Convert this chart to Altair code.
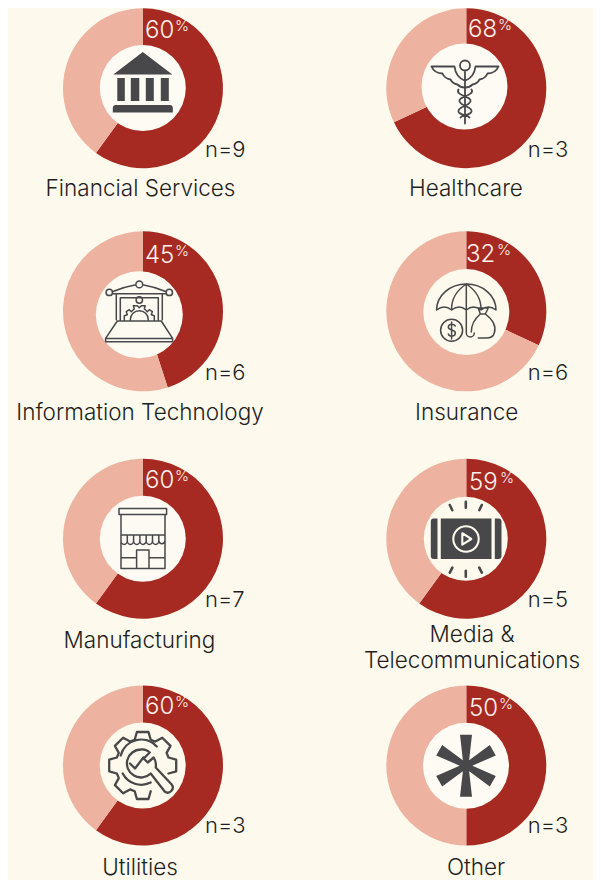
import math
import altair as alt
import pandas as pd

# ---- chart values ----
categories = ["Financial Services", "Healthcare", "Information Technology", "Insurance",
              "Manufacturing", "Media &\nTelecommunications", "Utilities", "Other"]
shares = [60, 68, 45, 32, 60, 60, 60, 50]
pct_labels = ["60", "68", "45", "32", "60", "59", "60", "50"]
n_labels = ["n=9", "n=3", "n=6", "n=6", "n=7", "n=5", "n=3", "n=3"]

# ---- layout, in page pixels ----
COL_X = [0, 323]
ROW_Y = [0, 227, 454, 681]
ROW_H = [227, 227, 227, 187]
ROW_SHIFT = [3.5, 0, 0, 0]
ring_cx = [143, 466.3] * 4
ring_cy = [84.7, 84.7, 311.3, 311.3, 538.7, 538.7, 765.5, 765.5]
disc_cx = [142.8, 464.5, 139.3, 466.3, 142.8, 465.8, 142.7, 466]
disc_cy = [84.5, 83, 314.7, 312, 538.7, 538.7, 765.5, 765.7]
disc_r = [43, 43, 43.5, 43, 43, 42, 43, 43]
num_x = [145, 468, 145, 466, 145, 469, 145, 469]
num_y = [34, 33.5, 263.3, 261.7, 488.3, 490, 714, 715.7]
pct_x = [175, 498, 175, 497, 175, 500, 175, 499]
n_x = [205, 527.7] * 4
n_y = [153, 153, 380, 380, 606.7, 606.7, 832.7, 832.7]
label_x = [140.5, 466, 140, 466.7, 139.5, 472, 140, 476]
label_y = [192, 192, 420, 420, 648, 642, 875, 875]

# ---- colours ----
BG = "#FDF9EC"
DARK = "#A72A22"
LIGHT = ["#EDB3A0"] * 5 + ["#DFB1A3"] + ["#EDB3A0"] * 2
DISC = ["#FEFBF5", "#FEFBF5", "#FDFAF2", BG, "#FDFAF3", BG, BG, "#FEFBF5"]
ICON = "#48484A"
TEXT = "#1F1F1F"
PCT = "#FDF1EA"
FONT = "Inter"


def gear():
    pts = []
    for k in range(8):
        a = -math.pi / 2 + k * math.pi / 4
        if k == 3:
            continue
        for r, d in ((27, -0.30), (34, -0.17), (34, 0.17), (27, 0.30)):
            pts.append((r * math.cos(a + d), r * math.sin(a + d)))
    ordered = pts[12:] + pts[:12]
    return "M" + " L".join(f"{x:.1f},{y:.1f}" for x, y in ordered)


def asterisk():
    bar = [(-6, -31), (6, -31), (2.5, 0), (6, 31), (-6, 31), (-2.5, 0)]
    out = []
    for deg in (0, 60, 120):
        a = math.radians(deg)
        p = [(x * math.cos(a) - y * math.sin(a), x * math.sin(a) + y * math.cos(a)) for x, y in bar]
        out.append("M" + " L".join(f"{x:.1f},{y:.1f}" for x, y in p) + " Z")
    return " ".join(out)


def circle(cx, cy, r):
    return f"M{cx - r},{cy} A{r},{r} 0 1 1 {cx + r},{cy} A{r},{r} 0 1 1 {cx - r},{cy} Z"


def rect(x0, y0, x1, y1):
    return f"M{x0},{y0} H{x1} V{y1} H{x0} Z"


bank = ("M0,-36 L29.5,-13.5 H-29.5 Z " + rect(-25.5, -10, -18, 13) + " " + rect(-12, -10, -3.5, 13) + " "
        + rect(3, -10, 11, 13) + " " + rect(18, -10, 26, 13)
        + " M-30,24.5 V20 Q-30,17 -27,17 H27 Q30,17 30,20 V24.5 Z")

caduceus = (circle(0.5, -21, 5) + " M0.5,-16 V37"
            " M-33,-20 H-10 C-9,-12 -5,-8 0,-6 M34,-20 H11 C10,-12 6,-8 1,-6"
            " M-33,-20 Q-30,-13 -22,-13 Q-20,-8 -14,-7 Q-12,-3 -7,-2 Q-4,1 0,1"
            " M34,-20 Q31,-13 23,-13 Q21,-8 15,-7 Q13,-3 8,-2 Q5,1 1,1"
            " M-6,3 C-10,9 8,10 6,15 C4,20 -7,20 -6,25 C-5,29 3,28 5,31"
            " M7,3 C11,9 -7,10 -5,15 C-3,20 8,20 7,25 C6,29 -2,28 -4,31")

laptop = (circle(0, -30.3, 3.4) + " " + circle(-30, -22.3, 3.2) + " " + circle(30, -22.3, 3.2)
          + " M-27,-23 Q-15,-28 -3.4,-30 M3.4,-30 Q15,-28 27,-23 M-26.8,-21 H26.8"
          " M-23,-20 V5 M23,-20 V5 M-19,-17 H19 M-19,-17 V5 M19,-17 V5 "
          + circle(0, -14.7, 3.2)
          + " M-15,5 V1 L-12,0 L-13,-3 L-10,-5 L-8,-3 L-5,-6 L-6,-9 L-2,-9 L0,-7 L2,-9 L6,-9 L5,-6"
          " L8,-3 L10,-5 L13,-3 L12,0 L15,1 V5 M-9,5 A9,9 0 0 1 9,5"
          " M-22,6.3 H22 L33.3,23.7 V27 H-33.7 V23.7 Z M-33.7,23.7 H33.3")

insurance = ("M-29.7,-2 A29.7,26 0 0 1 29.7,-2 Q22,-8 14.7,-2 Q7,-8 0,-2 Q-7,-8 -14.7,-2 Q-22,-8 -29.7,-2 Z"
             " M0,-28 C-12,-20 -15,-10 -14.7,-2 M0,-28 C12,-20 15,-10 14.7,-2"
             " M0,-28 V21 A4,4 0 0 0 8,21 " + circle(-14.7, 18.3, 11)
             + " M-11,14 C-13,11 -18,12 -18,15 C-18,19 -11,17 -11,21 C-11,25 -17,25 -18,22 M-14.7,10 V27"
             " M12,-4 H22 L19,2 H14 Z M14,2 C7,8 5,14 5,20 M19,2 C27,8 30,15 28,21 C27,25 24,26 20,26 H12")

store = (rect(-23.8, -30.3, 23.8, -24.3) + " M-21.8,-24.3 V29.7 H22.2 V-24.3 M-21.8,-3.7 H22.2"
         " M-21.8,-3.7 V2 A3.14,3.7 0 0 0 -15.5,2 A3.14,3.7 0 0 0 -9.2,2 A3.14,3.7 0 0 0 -2.9,2"
         " A3.14,3.7 0 0 0 3.4,2 A3.14,3.7 0 0 0 9.7,2 A3.14,3.7 0 0 0 16,2 A3.14,3.7 0 0 0 22.2,2 V-3.7"
         " M-15.5,2 V-3.7 M-9.2,2 V-3.7 M-2.9,2 V-3.7 M3.4,2 V-3.7 M9.7,2 V-3.7 M16,2 V-3.7"
         " M-6.2,29.7 V11.3 H6.2 V29.7 M-21.8,19 H-6.2 M6.2,19 H22.2")

media_fill = (rect(-25, -20.3, 25.7, 20.3)
              + " M-28.3,-20.3 V20.3 H-32 Q-35,20.3 -35,17 V-17 Q-35,-20.3 -32,-20.3 Z"
              " M29,-20.3 V20.3 H32.7 Q35.7,20.3 35.7,17 V-17 Q35.7,-20.3 32.7,-20.3 Z")
media_ticks = ("M0,-37 V-31 M-16,-33.7 L-13.5,-28.5 M16,-33.7 L13.5,-28.5"
               " M0,32 V38 M-13.5,29 L-16,34 M13.5,29 L16,34")
media_play = circle(0.2, 0.3, 12.7) + " M-3.5,-5.5 L5.5,0.3 L-3.5,6 Z"

wrench = ("M-2,-16 A14,14 0 1 0 8,8 L22,26 A5,5 0 0 0 29,19 L13,2 A14,14 0 0 0 11,-8 L5,-3 L1,-7 L7,-13 Q3,-17 -2,-16 Z"
          " M-12.7,-2 L-7.7,3 L0.7,-8 M-22,-10 A21,21 0 0 1 14,-19 M-20,8 A21,21 0 0 0 8,17")

# icon parts: (path, filled, colour, stroke width)
icons = [
    [(bank, True, ICON, 0)],
    [(caduceus, False, ICON, 1.8)],
    [(laptop, False, ICON, 1.5)],
    [(insurance, False, ICON, 1.5)],
    [(store, False, ICON, 1.5)],
    [(media_fill, True, ICON, 0), (media_ticks, False, ICON, 2.6), (media_play, False, BG, 2.1)],
    [(gear(), False, ICON, 2.3), (wrench, False, ICON, 2.3)],
    [(asterisk(), True, ICON, 0)],
]


def panel(i):
    col, row = i % 2, i // 2
    ox, oy = 8 + COL_X[col], 8 + ROW_Y[row] - ROW_SHIFT[row]
    X = lambda v: alt.value(v - ox)
    Y = lambda v: alt.value(v - oy)

    ring_df = pd.DataFrame({
        "segment": ["share", "rest"],
        "rank": [0, 1],
        "value": [shares[i], 100 - shares[i]],
    })
    ring = alt.Chart(ring_df).mark_arc(innerRadius=38, outerRadius=80).encode(
        theta=alt.Theta("value:Q", stack=True, scale=alt.Scale(domain=[0, 100])),
        order=alt.Order("rank:O"),
        color=alt.Color("segment:N", legend=None,
                        scale=alt.Scale(domain=["share", "rest"], range=[DARK, LIGHT[i]])),
        x=X(ring_cx[i]), y=Y(ring_cy[i]),
    )
    one = pd.DataFrame({
        "category": [categories[i]], "pct": [pct_labels[i]], "sign": ["%"], "n": [n_labels[i]],
    })
    base = alt.Chart(one)
    disc = base.mark_arc(innerRadius=0, outerRadius=disc_r[i], theta=0, theta2=2 * math.pi,
                         fill=DISC[i]).encode(x=X(disc_cx[i]), y=Y(disc_cy[i]))
    layers = [ring, disc]
    for path, filled, colour, sw in icons[i]:
        opts = dict(shape=path, size=4, opacity=1, filled=filled, strokeCap="round", strokeJoin="round",
                    color=colour, strokeWidth=sw)
        layers.append(base.mark_point(**opts).encode(x=X(disc_cx[i]), y=Y(disc_cy[i])))
    layers.append(base.mark_text(font=FONT, fontSize=24, fontWeight=300, color=PCT, align="left",
                                 baseline="alphabetic").encode(
        text="pct:N", x=X(num_x[i]), y=Y(num_y[i])))
    layers.append(base.mark_text(font=FONT, fontSize=15, fontWeight=300, color=PCT, align="left",
                                 baseline="alphabetic").encode(
        text="sign:N", x=X(pct_x[i]), y=Y(num_y[i] - 7)))
    layers.append(base.mark_text(font=FONT, fontSize=22, fontWeight=300, color=TEXT, align="left",
                                 baseline="alphabetic").encode(
        text="n:N", x=X(n_x[i]), y=Y(n_y[i])))
    layers.append(base.mark_text(font=FONT, fontSize=22.5, fontWeight=300, color=TEXT, align="center",
                                 baseline="alphabetic", lineBreak="\n", lineHeight=26).encode(
        text="category:N", x=X(label_x[i]), y=Y(label_y[i])))
    return alt.layer(*layers).properties(width=262, height=ROW_H[row])


chart = alt.concat(*[panel(i) for i in range(8)], columns=2,
                   spacing={"row": 0, "column": 61}, bounds="flush") \
    .properties(padding=0, background=BG) \
    .configure_view(stroke=None)

chart.save("out.html", embed_options={"renderer": "svg", "actions": False})
